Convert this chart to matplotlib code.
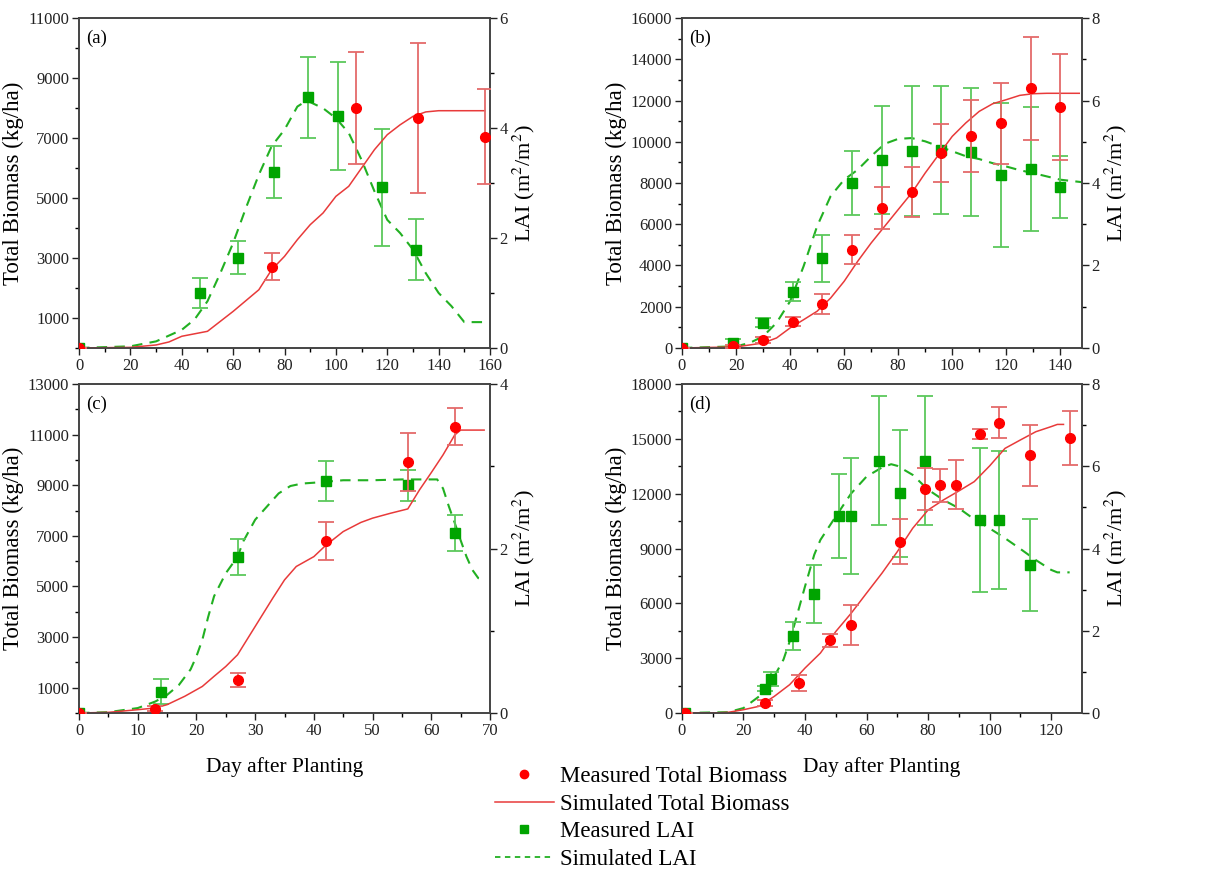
import numpy as np
import matplotlib
matplotlib.use("Agg")
import matplotlib.pyplot as plt
from matplotlib.lines import Line2D

plt.rcParams['font.family'] = ['Liberation Serif', 'DejaVu Serif']
plt.rcParams['mathtext.fontset'] = 'stix'

RED = '#ff0000'
RED_E = '#e46a6a'
RED_L = '#e83a3a'
GRN = '#00a400'
GRN_E = '#5cc85c'
GRN_L = '#22b022'

# ---------------- panel (a) ----------------
a_bio_day = [0, 75, 108, 132, 158]
a_bio = [0, 2700, 8000, 7670, 7040]
a_bio_err = [0, 450, 1880, 2490, 1580]
a_lai_day = [0, 47, 62, 76, 89, 101, 118, 131]
a_lai = [0, 1.0, 1.64, 3.2, 4.56, 4.22, 2.92, 1.79]
a_lai_err = [0, 0.28, 0.30, 0.47, 0.74, 0.98, 1.06, 0.55]
a_sim_day = [0, 20, 30, 35, 40, 50, 60, 70, 75, 80, 85, 90, 95, 100, 105, 110,
             115, 120, 125, 130, 135, 140, 158]
a_sim_bio = [0, 20, 100, 200, 390, 555, 1220, 1940, 2610, 3055, 3610, 4110, 4500,
             5055, 5390, 6000, 6610, 7110, 7440, 7720, 7870, 7910, 7910]
a_simlai_day = [0, 20, 30, 40, 45, 50, 55, 60, 65, 70, 75, 80, 85, 88, 90, 95, 100,
                105, 110, 115, 120, 125, 130, 135, 140, 145, 150, 158]
a_sim_lai = [0, 0.03, 0.12, 0.33, 0.52, 0.85, 1.36, 1.91, 2.55, 3.15, 3.67, 3.97,
             4.39, 4.48, 4.47, 4.36, 4.18, 3.91, 3.42, 2.85, 2.33, 2.09, 1.79, 1.36,
             1.0, 0.76, 0.47, 0.47]

# ---------------- panel (b) ----------------
b_day = [0, 19, 30, 41, 52, 63, 74, 85, 96, 107, 118, 129, 140]
b_bio = [0, 80, 400, 1280, 2130, 4770, 6800, 7580, 9450, 10300, 10890, 12590, 11690]
b_bio_err = [0, 80, 150, 220, 480, 700, 1020, 1220, 1400, 1745, 1955, 2490, 2570]
b_lai = [0, 0.12, 0.61, 1.36, 2.18, 4.0, 4.56, 4.77, 4.79, 4.75, 4.19, 4.34, 3.9]
b_lai_err = [0, 0.1, 0.11, 0.23, 0.57, 0.77, 1.3, 1.58, 1.55, 1.55, 1.75, 1.5, 0.75]
b_sim_day = [0, 20, 30, 35, 40, 45, 50, 55, 60, 65, 70, 75, 80, 85, 90, 95, 100,
             105, 110, 115, 120, 125, 130, 135, 147]
b_sim_bio = [0, 50, 240, 485, 970, 1370, 1780, 2420, 3230, 4200, 5090, 5900, 6710,
             7515, 8485, 9375, 10260, 10910, 11475, 11845, 12040, 12250, 12330,
             12350, 12350]
b_simlai_day = [0, 20, 25, 30, 35, 40, 45, 50, 55, 60, 65, 70, 75, 80, 85, 90, 95,
                100, 105, 110, 115, 120, 125, 130, 135, 140, 148]
b_sim_lai = [0, 0.04, 0.12, 0.28, 0.61, 1.13, 1.98, 2.95, 3.68, 4.08, 4.32, 4.65,
             4.95, 5.07, 5.09, 5.01, 4.89, 4.77, 4.65, 4.58, 4.48, 4.40, 4.31, 4.24,
             4.16, 4.08, 4.02]

# ---------------- panel (c) ----------------
c_bio_day = [0, 13, 27, 42, 56, 64]
c_bio = [0, 160, 1290, 6800, 9910, 11320]
c_bio_err = [0, 100, 280, 740, 1150, 730]
c_lai_day = [0, 14, 27, 42, 56, 64]
c_lai = [0, 0.26, 1.90, 2.82, 2.77, 2.19]
c_lai_err = [0, 0.15, 0.22, 0.24, 0.19, 0.22]
c_sim_day = [0, 5, 10, 13, 15, 18, 20, 21, 23, 25, 27, 30, 33, 35, 37, 40, 42, 45,
             48, 50, 53, 56, 58, 60, 62, 64, 65, 69]
c_sim_bio = [0, 26, 130, 200, 330, 660, 920, 1050, 1450, 1840, 2300, 3420, 4540,
             5260, 5790, 6180, 6620, 7170, 7530, 7700, 7890, 8065, 8820, 9500,
             10200, 10990, 11180, 11180]
c_simlai_day = [0, 5, 10, 13, 15, 17, 19, 20, 21, 22, 23, 25, 27, 28, 30, 32, 34,
                36, 38, 40, 45, 50, 55, 61, 62, 63, 64, 65, 66, 67, 68, 69]
c_sim_lai = [0, 0.01, 0.06, 0.14, 0.22, 0.34, 0.53, 0.69, 0.89, 1.17, 1.42, 1.70,
             1.90, 2.09, 2.35, 2.51, 2.67, 2.76, 2.79, 2.80, 2.83, 2.83, 2.84, 2.84,
             2.73, 2.51, 2.31, 2.10, 1.90, 1.74, 1.64, 1.62]

# ---------------- panel (d) ----------------
d_bio_day = [1, 27, 38, 48, 55, 71, 79, 84, 89, 97, 103, 113, 126]
d_bio = [0, 550, 1660, 3970, 4810, 9380, 12240, 12460, 12480, 15280, 15870, 14100,
         15050]
d_bio_err = [0, 180, 430, 340, 1090, 1230, 1160, 910, 1340, 270, 850, 1680, 1460]
d_lai_day = [1, 27, 29, 36, 43, 51, 55, 64, 71, 79, 97, 103, 113]
d_lai = [0, 0.59, 0.83, 1.88, 2.90, 4.78, 4.79, 6.14, 5.34, 6.14, 4.69, 4.70, 3.59]
d_lai_err = [0, 0.06, 0.17, 0.34, 0.70, 1.02, 1.42, 1.58, 1.55, 1.58, 1.75, 1.68,
             1.12]
d_sim_day = [0, 10, 15, 20, 25, 30, 35, 40, 45, 50, 55, 60, 65, 70, 75, 80, 85, 90,
             95, 100, 105, 110, 115, 120, 122, 124]
d_sim_bio = [0, 0, 36, 180, 364, 910, 1550, 2460, 3280, 4460, 5460, 6560, 7650,
             8830, 10110, 11110, 11660, 12150, 12660, 13520, 14480, 14940, 15390,
             15670, 15790, 15790]
d_simlai_day = [0, 15, 20, 25, 30, 33, 35, 37, 40, 43, 45, 50, 55, 60, 65, 68, 70,
                75, 80, 85, 90, 95, 100, 105, 110, 115, 120, 122, 126]
d_sim_lai = [0, 0.02, 0.12, 0.40, 0.89, 1.30, 1.74, 2.27, 3.08, 3.85, 4.21, 4.78,
             5.34, 5.75, 5.97, 6.05, 6.01, 5.79, 5.43, 5.18, 4.98, 4.71, 4.49, 4.25,
             3.99, 3.72, 3.48, 3.42, 3.42]

panels = [
    dict(tag='(a)', pos=[0.0649, 0.6005, 0.3374, 0.3788], xlim=160, xmaj=20,
         ylim=11000, ymaj=np.arange(1000, 11001, 2000), ymin=np.arange(0, 11000, 2000),
         rlim=6, rmaj=[0, 2, 4, 6], rmin=[1, 3, 5],
         bd=a_bio_day, b=a_bio, be=a_bio_err, ld=a_lai_day, l=a_lai, le=a_lai_err,
         sd=a_sim_day, sb=a_sim_bio, sld=a_simlai_day, sl=a_sim_lai, xlab=False),
    dict(tag='(b)', pos=[0.5599, 0.6005, 0.3284, 0.3788], xlim=148, xmaj=20,
         ylim=16000, ymaj=np.arange(0, 16001, 2000), ymin=np.arange(1000, 16000, 2000),
         rlim=8, rmaj=[0, 2, 4, 6, 8], rmin=[1, 3, 5, 7],
         bd=b_day, b=b_bio, be=b_bio_err, ld=b_day, l=b_lai, le=b_lai_err,
         sd=b_sim_day, sb=b_sim_bio, sld=b_simlai_day, sl=b_sim_lai, xlab=False),
    dict(tag='(c)', pos=[0.0649, 0.1814, 0.3374, 0.3777], xlim=70, xmaj=10,
         ylim=13000, ymaj=np.arange(1000, 13001, 2000), ymin=np.arange(0, 13000, 2000),
         rlim=4, rmaj=[0, 2, 4], rmin=[1, 3],
         bd=c_bio_day, b=c_bio, be=c_bio_err, ld=c_lai_day, l=c_lai, le=c_lai_err,
         sd=c_sim_day, sb=c_sim_bio, sld=c_simlai_day, sl=c_sim_lai, xlab=True),
    dict(tag='(d)', pos=[0.5599, 0.1814, 0.3284, 0.3777], xlim=130, xmaj=20,
         ylim=18000, ymaj=np.arange(0, 18001, 3000), ymin=np.arange(1500, 18000, 3000),
         rlim=8, rmaj=[0, 2, 4, 6, 8], rmin=[1, 3, 5, 7],
         bd=d_bio_day, b=d_bio, be=d_bio_err, ld=d_lai_day, l=d_lai, le=d_lai_err,
         sd=d_sim_day, sb=d_sim_bio, sld=d_simlai_day, sl=d_sim_lai, xlab=True),
]

fig = plt.figure(figsize=(12.18, 8.71), dpi=100)

for p in panels:
    ax = fig.add_axes(p['pos'])
    ax2 = ax.twinx()
    ax.set_zorder(ax2.get_zorder() + 1)
    ax.patch.set_visible(False)

    ax.plot(p['sd'], p['sb'], '-', color=RED_L, lw=1.1, zorder=2)
    ax.errorbar(p['bd'], p['b'], yerr=p['be'], fmt='o', color=RED, ms=7,
                ecolor=RED_E, elinewidth=1.3, capsize=6, capthick=1.3, zorder=3)
    ax2.plot(p['sld'], p['sl'], '--', color=GRN_L, lw=1.5, dashes=(5, 3.5))
    ax2.errorbar(p['ld'], p['l'], yerr=p['le'], fmt='s', color=GRN, ms=6.5,
                 ecolor=GRN_E, elinewidth=1.3, capsize=6, capthick=1.3)

    ax.set_xlim(0, p['xlim'])
    ax.set_ylim(0, p['ylim'])
    ax2.set_ylim(0, p['rlim'])
    ax.set_xticks(np.arange(0, p['xlim'] + 1, p['xmaj']))
    ax.set_xticks(np.arange(p['xmaj'] / 2, p['xlim'], p['xmaj']), minor=True)
    ax.set_yticks(p['ymaj'])
    ax.set_yticks(p['ymin'], minor=True)
    ax2.set_yticks(p['rmaj'])
    ax2.set_yticks(p['rmin'], minor=True)
    for a in (ax, ax2):
        a.tick_params(which='major', direction='out', length=5, width=1,
                      labelsize=12, pad=2, colors='#222222')
        a.tick_params(which='minor', direction='out', length=3, width=1)
        for s in a.spines.values():
            s.set_color('#444444')
            s.set_linewidth(1.2)

    ax.set_ylabel('Total Biomass (kg/ha)', fontsize=16.5, labelpad=3)
    ax2.set_ylabel('LAI (m$^{2}$/m$^{2}$)', fontsize=16, labelpad=2)
    if p['xlab']:
        ax.set_xlabel('Day after Planting', fontsize=15.5, labelpad=13)
    ax.text(0.018, 0.965, p['tag'], transform=ax.transAxes, fontsize=13.5,
            ha='left', va='top')

handles = [
    Line2D([], [], ls='none', marker='o', color=RED, ms=6),
    Line2D([], [], ls='-', color=RED_L, lw=1.1),
    Line2D([], [], ls='none', marker='s', color=GRN, ms=6),
    Line2D([], [], ls='--', color=GRN_L, lw=1.3, dashes=(3, 2.5)),
]
labels = ['Measured Total Biomass', 'Simulated Total Biomass', 'Measured LAI',
          'Simulated LAI']
fig.legend(handles, labels, loc='upper left', bbox_to_anchor=(0.406, 0.121),
           frameon=False, fontsize=16.5, handlelength=2.6, handletextpad=0.25,
           labelspacing=0.3, borderpad=0, borderaxespad=0)

fig.savefig('out.png', dpi=100)
